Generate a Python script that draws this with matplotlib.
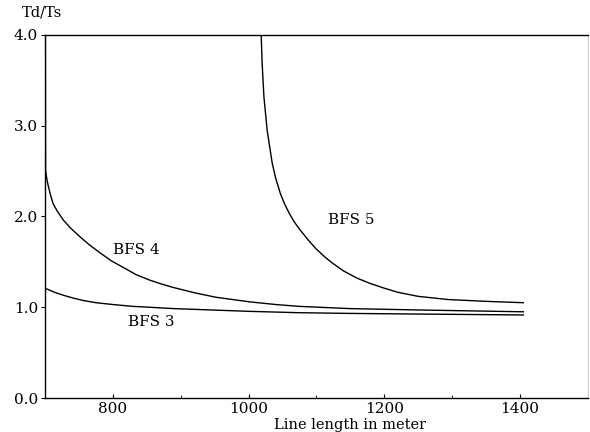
import matplotlib.pyplot as plt
from matplotlib.ticker import MultipleLocator, FormatStrFormatter

# Values
bfs3_x = [700, 714, 728, 742, 756, 775, 800, 829, 854, 890, 927, 1000, 1074, 1150, 1250, 1405]
bfs3_y = [1.21, 1.165, 1.13, 1.10, 1.075, 1.05, 1.03, 1.01, 1.00, 0.985, 0.975, 0.955, 0.94,
          0.932, 0.925, 0.915]

bfs4_x = [700.5, 700.8, 703, 705, 708, 712, 718, 727, 738, 751, 765, 781, 798, 815, 834, 854,
          870, 888, 920, 952, 1001, 1040, 1074, 1150, 1250, 1405]
bfs4_y = [4.2, 2.51, 2.40, 2.33, 2.24, 2.14, 2.06, 1.96, 1.87, 1.78, 1.69, 1.60, 1.51, 1.44,
          1.36, 1.30, 1.26, 1.22, 1.16, 1.11, 1.06, 1.03, 1.01, 0.985, 0.97, 0.95]

bfs5_x = [1018, 1018.6, 1020, 1022.6, 1027.4, 1034.8, 1040, 1047, 1053, 1060, 1067, 1074, 1088,
          1100, 1113, 1123, 1140, 1160, 1180, 1200, 1220, 1250, 1294, 1350, 1405]
bfs5_y = [4.2, 4.0, 3.69, 3.32, 2.95, 2.59, 2.42, 2.25, 2.14, 2.035, 1.945, 1.87, 1.74, 1.64,
          1.55, 1.49, 1.40, 1.32, 1.26, 1.21, 1.165, 1.12, 1.085, 1.065, 1.05]

x_ticks = [800, 1000, 1200, 1400]
y_ticks = [0.0, 1.0, 2.0, 3.0, 4.0]

plt.rcParams["font.family"] = "DejaVu Serif"

fig = plt.figure(figsize=(5.9, 4.32), dpi=100)
ax = fig.add_axes([0.0763, 0.0787, 0.92, 0.8403])

for xs, ys in [(bfs3_x, bfs3_y), (bfs4_x, bfs4_y), (bfs5_x, bfs5_y)]:
    ax.plot(xs, ys, color="black", linewidth=1.0)

ax.set_xlim(700, 1500)
ax.set_ylim(0, 4)

ax.set_xticks(x_ticks)
ax.xaxis.set_minor_locator(MultipleLocator(100))
ax.set_yticks(y_ticks)
ax.yaxis.set_major_formatter(FormatStrFormatter("%.1f"))
ax.tick_params(axis="x", direction="in", length=3, labelsize=11, pad=3)
ax.tick_params(axis="x", which="minor", direction="in", length=2)
ax.tick_params(axis="y", direction="out", length=3, labelsize=11, pad=2)

ax.spines["right"].set_color("#cccccc")
for side in ["left", "bottom", "top"]:
    ax.spines[side].set_linewidth(1.0)

# Curve labels
ax.text(835, 1.63, "BFS 4", ha="center", va="center", fontsize=11)
ax.text(857, 0.84, "BFS 3", ha="center", va="center", fontsize=11)
ax.text(1152, 1.96, "BFS 5", ha="center", va="center", fontsize=11)

ax.set_xlabel("Line length in meter", fontsize=10.5)
ax.xaxis.set_label_coords(0.5625, -0.055)
fig.text(0.071, 0.972, "Td/Ts", ha="center", va="center", fontsize=10.5)

fig.savefig("out.png", dpi=100)
